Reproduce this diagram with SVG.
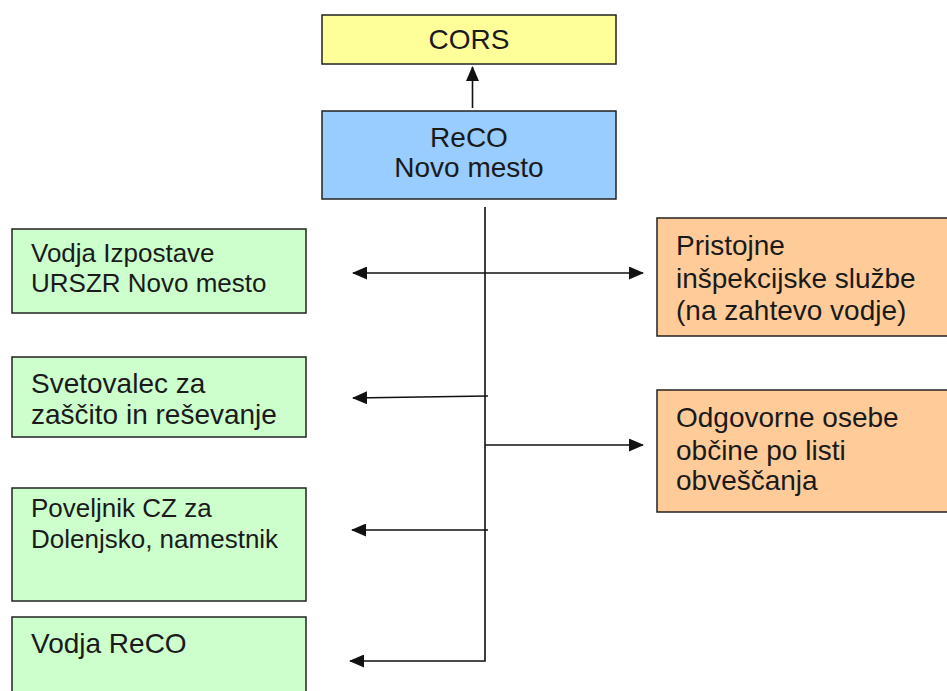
<svg xmlns="http://www.w3.org/2000/svg" width="947" height="691" viewBox="0 0 947 691">
<style>
text{font-family:"Liberation Sans",Arial,sans-serif;fill:#1a1a1a}
.b{stroke:#222;stroke-width:1.5}
.g{fill:#ccffcc}.o{fill:#ffcc99}
.c{stroke:#111;stroke-width:1.6;fill:none}
</style>
<defs>
<marker id="ah" viewBox="0 0 15 13" refX="14" refY="6.5" markerWidth="15" markerHeight="13" markerUnits="userSpaceOnUse" orient="auto-start-reverse">
<path d="M0,0 L15,6.5 L0,13 z" fill="#111"/>
</marker>
</defs>
<g id="cors"><rect class="b" x="322" y="15" width="294" height="49" fill="#ffff99"/><text x="469" y="49" font-size="28" text-anchor="middle">CORS</text></g>
<g id="reco"><rect class="b" x="322" y="111" width="294" height="88" fill="#99ccff"/><text x="469" y="147" font-size="28" text-anchor="middle">ReCO</text><text x="469" y="177" font-size="28" text-anchor="middle">Novo mesto</text></g>
<g id="vodja-izpostave"><rect class="b g" x="12" y="229" width="294" height="84"/><text x="31" y="262" font-size="26">Vodja Izpostave</text><text x="31" y="292" font-size="26">URSZR Novo mesto</text></g>
<g id="svetovalec"><rect class="b g" x="12" y="357" width="294" height="80"/><text x="31" y="393" font-size="28">Svetovalec za</text><text x="31" y="424" font-size="28">zaščito in reševanje</text></g>
<g id="poveljnik"><rect class="b g" x="12" y="488" width="294" height="113"/><text x="31" y="517" font-size="26">Poveljnik CZ za</text><text x="31" y="548" font-size="26">Dolenjsko, namestnik</text></g>
<g id="vodja-reco"><rect class="b g" x="12" y="617" width="294" height="80"/><text x="31" y="653" font-size="28">Vodja ReCO</text></g>
<g id="inspekcijske"><rect class="b o" x="657" y="218" width="295" height="118"/><text x="676" y="255" font-size="28">Pristojne</text><text x="676" y="288" font-size="28">inšpekcijske službe</text><text x="676" y="320" font-size="28">(na zahtevo vodje)</text></g>
<g id="odgovorne"><rect class="b o" x="657" y="390" width="295" height="122"/><text x="676" y="427" font-size="28">Odgovorne osebe</text><text x="676" y="460" font-size="28">občine po listi</text><text x="676" y="490" font-size="28">obveščanja</text></g>
<g id="connectors">
<line class="c" x1="472.5" y1="108" x2="472.5" y2="67" marker-end="url(#ah)"/>
<polyline class="c" points="485,207 485,661 350,661" marker-end="url(#ah)"/>
<line class="c" x1="353" y1="273" x2="643" y2="273" marker-start="url(#ah)" marker-end="url(#ah)"/>
<line class="c" x1="488" y1="396" x2="353" y2="398" marker-end="url(#ah)"/>
<line class="c" x1="485" y1="445" x2="643" y2="445" marker-end="url(#ah)"/>
<line class="c" x1="488" y1="530" x2="352" y2="530" marker-end="url(#ah)"/>
</g>
</svg>
